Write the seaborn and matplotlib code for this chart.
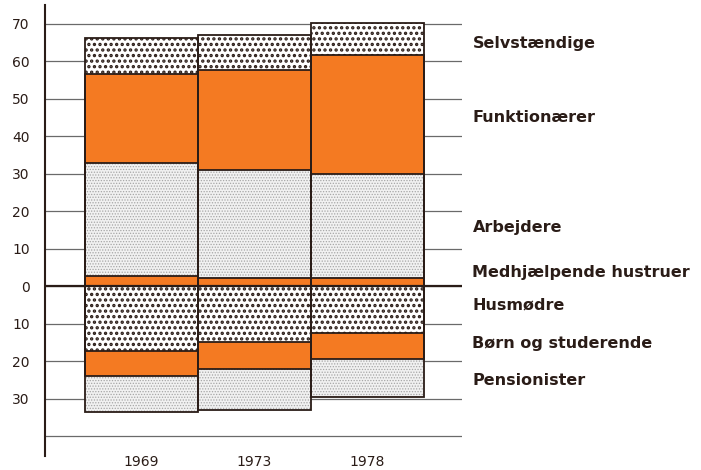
import numpy as np
import pandas as pd
import matplotlib
matplotlib.use('Agg')
import matplotlib.pyplot as plt
import seaborn as sns

# Data (percent of population)
years = ['1969', '1973', '1978']
selvstaendige = [9.6, 9.4, 8.6]
funktionaerer = [23.8, 26.8, 31.7]
arbejdere = [30.0, 28.6, 27.8]
medhjaelpende = [2.9, 2.3, 2.2]
husmoedre = [17.1, 14.7, 12.5]
boern = [6.9, 7.4, 6.9]
pensionister = [9.4, 10.8, 10.0]

series_labels = ['Selvstændige', 'Funktionærer', 'Arbejdere', 'Medhjælpende hustruer',
                 'Husmødre', 'Børn og studerende', 'Pensionister']
label_y = [64.7, 44.9, 15.6, 3.6, -4.9, -15.1, -25.2]
ytick_vals = [70, 60, 50, 40, 30, 20, 10, 0, -10, -20, -30, -40]
ytick_text = ['70', '60', '50', '40', '30', '20', '10', '0', '10', '20', '30', '']

sns.set_style('white')
plt.rcParams['font.family'] = ['DejaVu Sans']

DARK = '#2a1c17'
ORANGE = '#f47a22'
GRAYFACE = '#f1f1f1'
GRAYDOT = '#a6a6a6'

fig = plt.figure(figsize=(7.01, 4.70), dpi=100)
ax = fig.add_axes([45 / 701, 14 / 470, 417 / 701, 451 / 470])

# cumulative stacks: positive part above zero, negative part below
med = np.array(medhjaelpende)
pos = [med + np.array(arbejdere) + np.array(funktionaerer) + np.array(selvstaendige),
       med + np.array(arbejdere) + np.array(funktionaerer),
       med + np.array(arbejdere),
       med]
neg = [-(np.array(husmoedre) + np.array(boern) + np.array(pensionister)),
       -(np.array(husmoedre) + np.array(boern)),
       -np.array(husmoedre)]

styles_pos = [('white', DARK, '...', 1.6),
              (ORANGE, ORANGE, None, 0),
              (GRAYFACE, GRAYDOT, '......', 0.6),
              (ORANGE, ORANGE, None, 0)]
styles_neg = [(GRAYFACE, GRAYDOT, '......', 0.6),
              (ORANGE, ORANGE, None, 0),
              ('white', DARK, '...', 1.6)]


def draw_layer(values, face, edge, hatch, hlw):
    n_before = len(ax.patches)
    with plt.rc_context({'hatch.linewidth': hlw if hlw else 1.0}):
        sns.barplot(x=years, y=values, color=face, saturation=1, width=1,
                    edgecolor=edge, linewidth=0, hatch=hatch, ax=ax, zorder=2)
    for p in ax.patches[n_before:]:
        if hatch and hasattr(p, 'set_hatch_linewidth'):
            p.set_hatch_linewidth(hlw)


for vals, st in zip(pos, styles_pos):
    draw_layer(vals, *st)
for vals, st in zip(neg, styles_neg):
    draw_layer(vals, *st)

# outlines of every segment
for vals in pos + neg:
    sns.barplot(x=years, y=vals, fill=False, color=DARK, width=1,
                linewidth=1.3, ax=ax, zorder=3)

# grid lines and zero line
for v in ytick_vals:
    ax.axhline(v, color='#6a6a6a', lw=0.9, zorder=0)
ax.axhline(0, color=DARK, lw=1.6, zorder=4)

ax.set_xlim(-0.854, 2.836)
ax.set_ylim(-45.2, 75)
ax.set_yticks(ytick_vals)
ax.set_yticklabels(ytick_text, fontsize=10, color=DARK)
ax.tick_params(axis='y', length=0, pad=11)
ax.tick_params(axis='x', length=0, pad=-1, labelsize=10, labelcolor=DARK)
ax.set_xlabel('')
ax.set_ylabel('')

for s in ['top', 'right', 'bottom']:
    ax.spines[s].set_visible(False)
ax.spines['left'].set_color(DARK)
ax.spines['left'].set_linewidth(1.5)

# category labels to the right of the bars
for lab, y in zip(series_labels, label_y):
    ax.text(1.025, y, lab, transform=ax.get_yaxis_transform(), fontsize=11.5,
            fontweight='bold', color=DARK, va='center', ha='left', clip_on=False)

fig.savefig('out.png', dpi=100)
